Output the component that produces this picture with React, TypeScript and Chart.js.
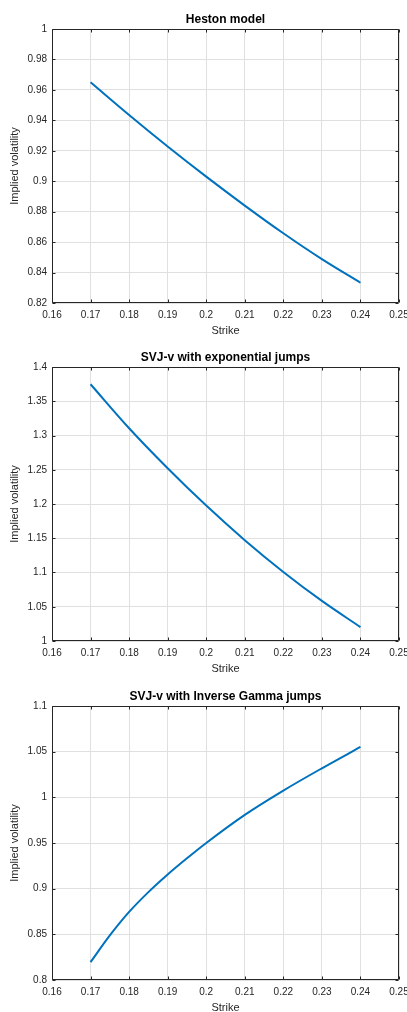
import React, { useEffect, useRef } from "react";
import { Chart, registerables } from "chart.js";
Chart.register(...registerables);

const hestonStrikes = [0.17, 0.18, 0.19, 0.2, 0.21, 0.22, 0.23, 0.24];
const hestonVol = [0.965, 0.9435, 0.9228, 0.903, 0.884, 0.8658, 0.8488, 0.8333];
const svjExpStrikes = [0.17, 0.18, 0.19, 0.2, 0.21, 0.22, 0.23, 0.24];
const svjExpVol = [1.3748, 1.3106, 1.2522, 1.1977, 1.1472, 1.1008, 1.0585, 1.0203];
const svjIgStrikes = [0.17, 0.175, 0.18, 0.185, 0.19, 0.195, 0.2, 0.21, 0.22, 0.23, 0.24];
const svjIgVol = [0.8196, 0.8488, 0.8745, 0.8962, 0.9155, 0.9332, 0.95, 0.9808, 1.0074, 1.0318, 1.0552];

const panelTitles = ["Heston model", "SVJ-v with exponential jumps", "SVJ-v with Inverse Gamma jumps"];
const panelStrikes = [hestonStrikes, svjExpStrikes, svjIgStrikes];
const panelSeries = [hestonVol, svjExpVol, svjIgVol];
const yMins = [0.82, 1, 0.8];
const yMaxs = [1, 1.4, 1.1];
const ySteps = [0.02, 0.05, 0.05];
const xMin = 0.16;
const xMax = 0.25;
const xStep = 0.01;
const xLabel = "Strike";
const yLabel = "Implied volatility";

const FONT = "'Liberation Sans', Arial, Helvetica, sans-serif";
const AXIS_COLOR = "#262626";

const fmt = (v: number) => String(Number(Number(v).toFixed(4)));

const boxPlugin = {
  id: "matlabBox",
  afterDraw(chart: any, _args: any, opts: any) {
    const { ctx, chartArea } = chart;
    const xs = chart.scales.x;
    const ys = chart.scales.y;
    const L = Math.round(chartArea.left) + 0.5;
    const R = Math.round(chartArea.right) - 0.5;
    const T = Math.round(chartArea.top) + 0.5;
    const B = Math.round(chartArea.bottom) - 0.5;
    const tl = 3;
    ctx.save();
    ctx.strokeStyle = AXIS_COLOR;
    ctx.lineWidth = 1;
    ctx.beginPath();
    ctx.rect(L, T, R - L, B - T);
    xs.ticks.forEach((t: any) => {
      const px = Math.round(xs.getPixelForValue(t.value)) + 0.5;
      ctx.moveTo(px, B);
      ctx.lineTo(px, B - tl);
      ctx.moveTo(px, T);
      ctx.lineTo(px, T + tl);
    });
    ys.ticks.forEach((t: any) => {
      const py = Math.round(ys.getPixelForValue(t.value)) + 0.5;
      ctx.moveTo(L, py);
      ctx.lineTo(L + tl, py);
      ctx.moveTo(R, py);
      ctx.lineTo(R - tl, py);
    });
    ctx.stroke();
    // title centred over the axes box
    ctx.fillStyle = "#000000";
    ctx.font = `bold 12px ${FONT}`;
    ctx.textAlign = "center";
    ctx.textBaseline = "middle";
    ctx.fillText(opts.text || "", (chartArea.left + chartArea.right) / 2, chartArea.top - 9.5);
    ctx.restore();
  },
};

function Panel({ index, top }: { index: number; top: number }) {
  const ref = useRef<HTMLCanvasElement | null>(null);
  useEffect(() => {
    if (!ref.current) return;
    const values = panelSeries[index];
    const xs = panelStrikes[index];
    const chart = new Chart(ref.current, {
      type: "line",
      data: {
        datasets: [
          {
            data: xs.map((s, i) => ({ x: s, y: values[i] })),
            borderColor: "#0072BD",
            borderWidth: 2,
            pointRadius: 0,
            fill: false,
            cubicInterpolationMode: "monotone",
          },
        ],
      },
      options: {
        animation: false,
        responsive: false,
        events: [],
        layout: { padding: { left: 0, right: 31, top: 29, bottom: 0 } },
        plugins: {
          legend: { display: false },
          tooltip: { enabled: false },
          title: { display: false },
          matlabBox: { text: panelTitles[index] },
        },
        scales: {
          x: {
            type: "linear",
            min: xMin,
            max: xMax,
            afterFit: (s: any) => {
              s.height = 35;
            },
            ticks: {
              stepSize: xStep,
              color: AXIS_COLOR,
              font: { family: FONT, size: 10 },
              padding: 6,
              maxRotation: 0,
              autoSkip: false,
              callback: (v: any) => fmt(v),
            },
            grid: { color: "#e0e0e0", drawTicks: false, lineWidth: 1 },
            border: { display: false },
            title: {
              display: true,
              text: xLabel,
              color: AXIS_COLOR,
              font: { family: FONT, size: 11 },
              padding: { top: 0, bottom: 0 },
            },
          },
          y: {
            type: "linear",
            min: yMins[index],
            max: yMaxs[index],
            afterFit: (s: any) => {
              s.width = 52;
            },
            ticks: {
              stepSize: ySteps[index],
              color: AXIS_COLOR,
              font: { family: FONT, size: 10 },
              padding: 5,
              autoSkip: false,
              callback: (v: any) => fmt(v),
            },
            grid: { color: "#e0e0e0", drawTicks: false, lineWidth: 1 },
            border: { display: false },
            title: {
              display: true,
              text: yLabel,
              color: AXIS_COLOR,
              font: { family: FONT, size: 11 },
              padding: { top: 8.4, bottom: 0 },
            },
          },
        },
      },
      plugins: [boxPlugin],
    } as any);
    return () => chart.destroy();
  }, [index]);
  return (
    <canvas
      ref={ref}
      width={430}
      height={338}
      style={{ position: "absolute", left: 0, top, width: 430, height: 338 }}
    />
  );
}

const panelTops = [0, 338, 677];

export default function App() {
  return (
    <div
      style={{
        position: "absolute",
        left: 0,
        top: 0,
        width: 407,
        height: 1012,
        overflow: "hidden",
        background: "#ffffff",
      }}
    >
      {panelTops.map((t, i) => (
        <Panel key={i} index={i} top={t} />
      ))}
    </div>
  );
}
